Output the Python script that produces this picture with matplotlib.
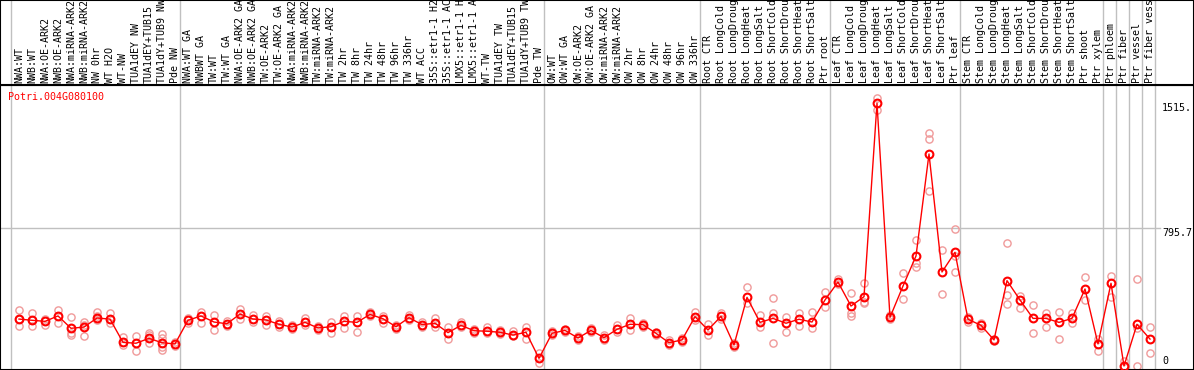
# Expression profile of Potri.004G080100 across poplar samples

# Importing the libraries
import numpy as np
import matplotlib
matplotlib.use('Agg')
import matplotlib.pyplot as plt

# Sample names (as shown, cut at 14 characters)
labels = ['NWA:WT', 'NWB:WT', 'NWA:OE-ARK2', 'NWB:OE-ARK2', 'NWA:miRNA-ARK2',
          'NWB:miRNA-ARK2', 'NW 0hr', 'WT H2O', 'WT-NW', 'TUA1dEY NW',
          'TUA1dEY+TUB15', 'TUA1dY+TUB9 NW', 'Pde NW',
          'NWA:WT GA', 'NWBWT GA', 'TW:WT', 'TW:WT GA', 'NWA:OE-ARK2 GA',
          'NWB:OE-ARK2 GA', 'TW:OE-ARK2', 'TW:OE-ARK2 GA', 'NWA:miRNA-ARK2',
          'NWB:miRNA-ARK2', 'TW:miRNA-ARK2', 'TW:miRNA-ARK2', 'TW 2hr', 'TW 8hr',
          'TW 24hr', 'TW 48hr', 'TW 96hr', 'TW 336hr', 'WT ACC', '35S::etr1-1 H2',
          '35S::etr1-1 AC', 'LMX5::etr1-1 H', 'LMX5::etr1-1 A', 'WT-TW',
          'TUA1dEY TW', 'TUA1dEY+TUB15', 'TUA1dY+TUB9 TW', 'Pde TW',
          'OW:WT', 'OW:WT GA', 'OW:OE-ARK2', 'OW:OE-ARK2 GA', 'OW:miRNA-ARK2',
          'OW:miRNA-ARK2', 'OW 2hr', 'OW 8hr', 'OW 24hr', 'OW 48hr', 'OW 96hr',
          'OW 336hr',
          'Root CTR', 'Root LongCold', 'Root LongDroug', 'Root LongHeat',
          'Root LongSalt', 'Root ShortCold', 'Root ShortDrou', 'Root ShortHeat',
          'Root ShortSalt', 'Ptr root',
          'Leaf CTR', 'Leaf LongCold', 'Leaf LongDroug', 'Leaf LongHeat',
          'Leaf LongSalt', 'Leaf ShortCold', 'Leaf ShortDrou', 'Leaf ShortHeat',
          'Leaf ShortSalt', 'Ptr leaf',
          'Stem CTR', 'Stem LongCold', 'Stem LongDroug', 'Stem LongHeat',
          'Stem LongSalt', 'Stem ShortCold', 'Stem ShortDrou', 'Stem ShortHeat',
          'Stem ShortSalt', 'Ptr shoot', 'Ptr xylem',
          'Ptr phloem', 'Ptr fiber', 'Ptr vessel', 'Ptr fiber vess']

# Mean expression per sample
means = [270, 263, 257, 288, 217, 224, 276, 270, 136, 131, 159, 134, 127,
         263, 288, 253, 243, 299, 270, 265, 240, 224, 251, 219, 226, 257, 251,
         297, 272, 226, 278, 238, 246, 192, 234, 203, 200, 194, 178, 194, 44,
         188, 205, 161, 205, 163, 211, 240, 238, 188, 134, 150, 284,
         207, 286, 121, 395, 251, 274, 246, 269, 253, 380,
         483, 345, 399, 1512, 280, 460, 633, 1220, 541, 654,
         269, 234, 150, 491, 380, 274, 274, 251, 274, 443, 127,
         476, 0, 240, 155]

# Replicate values per sample
reps = [[322, 230, 270], [307, 230, 263], [272, 234], [322, 246],
        [284, 192, 177], [255, 173, 236], [311, 288, 265], [307, 246],
        [169, 121], [174, 88], [192, 131, 178], [184, 161, 111, 92], [140, 115],
        [275, 250], [311, 249], [295, 207], [259, 230], [328, 272], [292, 253],
        [288, 238], [257, 223], [235, 213], [276, 234], [230, 207], [253, 192],
        [288, 219], [288, 196], [311, 285], [288, 246], [236, 213], [292, 265],
        [223, 253], [278, 226], [223, 154], [253, 222], [213, 190], [223, 188],
        [205, 183], [200, 170], [223, 157], [73, 19],
        [200, 176], [213, 194], [171, 150], [216, 194], [178, 150], [236, 197],
        [278, 207], [250, 226], [196, 178], [150, 121], [159, 140], [312, 265],
        [240, 178], [303, 270], [130, 110], [453, 361], [293, 226],
        [390, 303, 131], [284, 197], [303, 230], [308, 219], [426, 337],
        [499, 470], [422, 303, 288], [476, 370, 361], [1542, 1473], [293, 268],
        [533, 384], [725, 591, 568], [1339, 1304, 1007], [667, 414],
        [790, 635, 541],
        [284, 251], [246, 219], [154, 145], [706, 410, 355], [403, 332],
        [351, 188], [307, 226], [312, 154], [307, 246], [510, 380], [154, 85],
        [518, 399], [30, 0], [499, 0, 220], [226, 73]]

# First sample index of each block (gray separators)
group_starts = [0, 13, 41, 53, 63, 73, 84, 85, 86, 87, 88]

# Axis marks on the right
ytick_vals = [1515, 795.7, 0]
ytick_text = ['1515.', '795.7', '0']
title = 'Potri.004G080100'

plt.rcParams['font.family'] = 'DejaVu Sans Mono'
plt.rcParams['font.size'] = 7.2

W, H = 1194, 370
top = 85  # pixel row of the line between labels and plot
fig = plt.figure(figsize=(W / 100, H / 100), dpi=100)
ax = fig.add_axes([0, 0, 1, (H - top) / H])
lab = fig.add_axes([0, (H - top) / H, 1, top / H], sharex=ax)

x = np.arange(len(labels))
xmin = -19 / 13
xmax = (W - 19) / 13
ax.set_xlim(xmin, xmax)
px = 0.1738  # pixels per unit
ax.set_ylim(-4 / px, (366 - top) / px)
lab.set_ylim(0, top)

for a in (ax, lab):
    a.set_xticks([])
    a.set_yticks([])
    for s in a.spines.values():
        s.set_linewidth(1.5)
        s.set_color('black')
    for g in group_starts:
        a.axvline(g - 8 / 13, color='#c0c0c0', lw=1.0, zorder=0)

# gridline
ax.plot([xmin, (1160 - 19) / 13], [795.7, 795.7], color='#c0c0c0', lw=1.0, zorder=0)

# replicates
for i, r in enumerate(reps):
    ax.plot([i] * len(r), r, 'o', mfc='none', mec='#f09a9a', ms=5.2, mew=1.0,
            zorder=2, clip_on=True)

# means
ax.plot(x, means, '-', color='red', lw=1.0, zorder=3)
ax.plot(x, means, 'o', mfc='none', mec='red', ms=5.6, mew=1.5, zorder=4)

# labels on top
for i, name in enumerate(labels):
    lab.text(i, 2, name, rotation=90, ha='center', va='bottom', color='black',
             clip_on=True)

# y labels on the right
xt = (1162 - 19) / 13
ax.text(xt, ytick_vals[0], ytick_text[0], ha='left', va='top')
ax.text(xt, ytick_vals[1], ytick_text[1], ha='left', va='top')
ax.text(xt, ytick_vals[2], ytick_text[2], ha='left', va='bottom')

ax.text(8 / W, 1 - 12 / (H - top), title, color='red', ha='left', va='center',
        transform=ax.transAxes)

fig.savefig('out.png', dpi=100)
